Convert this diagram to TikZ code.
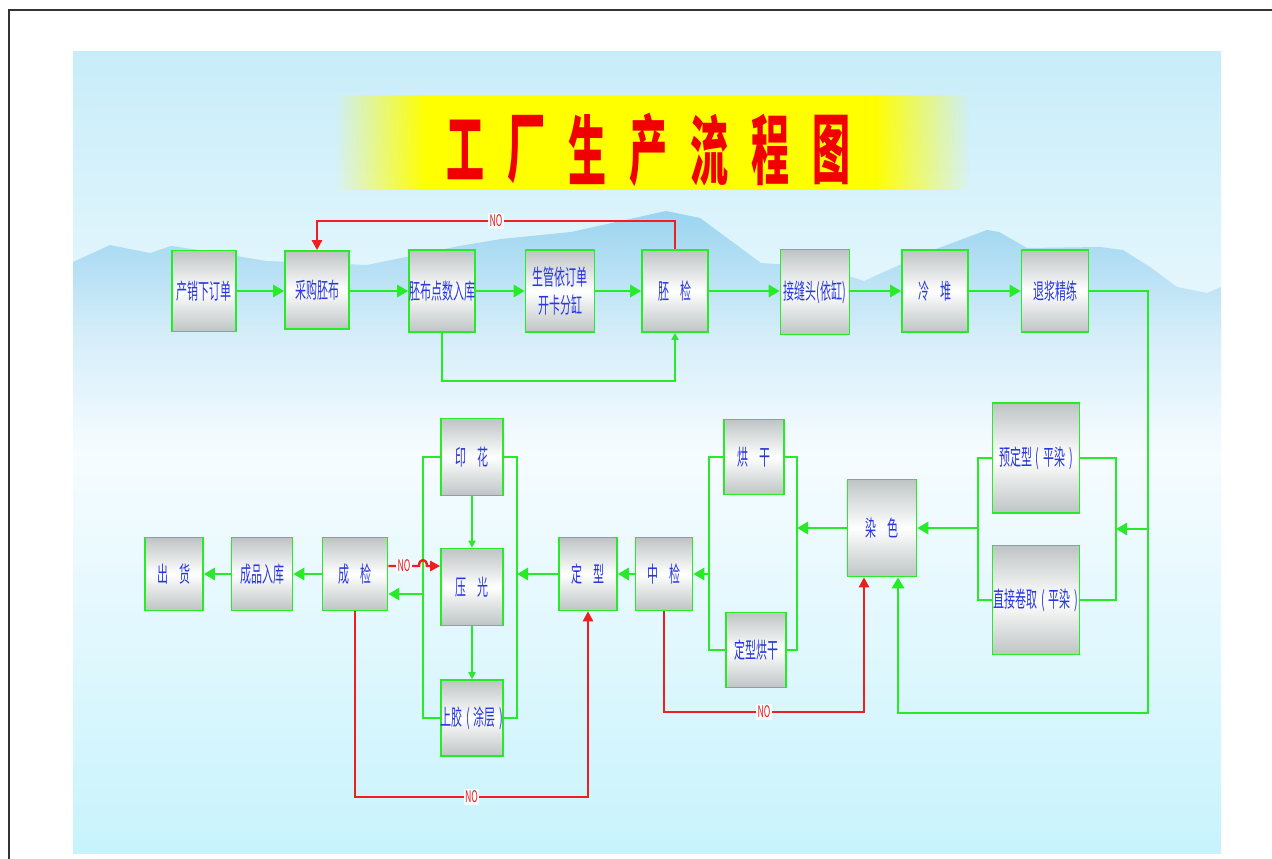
\documentclass[tikz,border=0pt]{standalone}
\usepackage{fontspec}
\newfontfamily\cjk[FakeStretch=0.5]{Noto Sans CJK SC}
\newfontfamily\cjkn[FakeStretch=0.55]{Noto Sans CJK SC}
\newfontfamily\cjkt[FakeStretch=0.5]{Noto Sans CJK SC}
\usetikzlibrary{arrows.meta,fadings}
\definecolor{lgreen}{RGB}{40,235,40}
\definecolor{lred}{RGB}{240,30,30}
\definecolor{txtblue}{RGB}{40,55,225}
\definecolor{boxgray}{RGB}{190,196,196}
\definecolor{labbg}{RGB}{242,251,254}
\definecolor{skytop}{RGB}{200,237,249}
\definecolor{skymid}{RGB}{246,252,255}
\definecolor{skybot}{RGB}{200,243,252}
\definecolor{mount}{RGB}{155,212,240}
\definecolor{mountmid}{RGB}{212,237,249}
\definecolor{titleyellow}{RGB}{255,255,0}
\definecolor{titlered}{RGB}{240,0,0}
\tikzfading[name=fadeleft, left color=transparent!100, right color=transparent!0]
\tikzfading[name=faderight, left color=transparent!0, right color=transparent!100]
\tikzset{
  box/.style={draw=lgreen, line width=1.6pt, top color=boxgray, bottom color=boxgray,
    middle color=white, text=txtblue, font=\cjk\fontsize{22}{28}\selectfont,
    align=center, inner sep=0pt},
  ga/.style={draw=lgreen, line width=2.8pt, -{Triangle[length=11pt,width=12pt]}},
  gl/.style={draw=lgreen, line width=2pt},
  gthin/.style={draw=lgreen, line width=1.6pt, -{Triangle[length=7pt,width=7pt]}},
  ra/.style={draw=lred, line width=2.4pt, -{Triangle[length=10pt,width=10pt]}},
  nolab/.style={text=lred, fill=labbg, inner sep=1.5pt, font=\cjkn\fontsize{16}{16}\selectfont},
  titlech/.style={text=titlered, font=\cjkt\bfseries\fontsize{76}{76}\selectfont, inner sep=0pt}
}
\begin{document}
\begin{tikzpicture}[x=1pt,y=-1pt]
\useasboundingbox (0,0) rectangle (1272,859);
\fill[white] (0,0) rectangle (1272,859);
% background
\shade[top color=skytop, bottom color=skybot, middle color=skymid] (73,52) rectangle (1221,853);
\shade[top color=mount, bottom color=skymid, middle color=mountmid]
  (73,262) -- (110,245) -- (150,253) -- (171,246) -- (220,253) -- (266,261) -- (367,265)
  -- (459,246) -- (501,239) -- (571,232) -- (666,211) -- (700,218) -- (761,263) -- (821,267)
  -- (864,281) -- (928,252) -- (987,230) -- (999,232) -- (1027,248) -- (1100,247) -- (1123,250)
  -- (1150,267) -- (1177,287) -- (1207,293) -- (1221,287) -- (1221,452) -- (73,452) -- cycle;
% outer frame
\draw[line width=1.5pt, black!80] (9,859) -- (9,10) -- (1272,10);
% title band
\fill[titleyellow] (425,95) rectangle (875,190);
\fill[titleyellow, path fading=fadeleft] (335,95) rectangle (425.5,190);
\fill[titleyellow, path fading=faderight] (874.5,95) rectangle (970,190);
\foreach \c [count=\i from 0] in {工,厂,生,产,流,程,图}
  \node[titlech] (t\i) at (465+61*\i,150) {\c};
% top row
\node[box, minimum width=64pt, minimum height=81pt] (n1) at (204,291) {产销下订单};
\node[box, minimum width=64pt, minimum height=78pt] (n2) at (317,290) {采购胚布};
\node[box, minimum width=66pt, minimum height=82pt] (n3) at (442,291) {胚布点数入库};
\node[box, minimum width=69pt, minimum height=82pt] (n4) at (560,291) {生管依订单\\开卡分缸};
\node[box, minimum width=66pt, minimum height=82pt] (n5) at (675,291) {胚　检};
\node[box, minimum width=69pt, minimum height=85pt] (n6) at (815,292) {接缝头(依缸)};
\node[box, minimum width=66pt, minimum height=82pt] (n7) at (935,291) {冷　堆};
\node[box, minimum width=67pt, minimum height=82pt] (n8) at (1055,291) {退浆精练};
% right part
\node[box, minimum width=87pt, minimum height=110pt] (n9) at (1036,458) {预定型\,(\,平染\,)};
\node[box, minimum width=87pt, minimum height=109pt] (n10) at (1036,600) {直接卷取\,(\,平染\,)};
\node[box, minimum width=69pt, minimum height=97pt] (n11) at (882,528) {染　色};
\node[box, minimum width=60pt, minimum height=75pt] (n12) at (754,457) {烘　干};
\node[box, minimum width=60pt, minimum height=75pt] (n13) at (756,650) {定型烘干};
\node[box, minimum width=57pt, minimum height=73pt] (n14) at (664,574) {中　检};
\node[box, minimum width=58pt, minimum height=73pt] (n15) at (588,574) {定　型};
\node[box, minimum width=62pt, minimum height=77pt] (n16) at (472,457) {印　花};
\node[box, minimum width=62pt, minimum height=77pt] (n17) at (472,587) {压　光};
\node[box, minimum width=62pt, minimum height=76pt] (n18) at (472,718) {上胶\,(\,涂层\,)};
\node[box, minimum width=65pt, minimum height=73pt] (n19) at (355,574) {成　检};
\node[box, minimum width=61pt, minimum height=73pt] (n20) at (262,574) {成品入库};
\node[box, minimum width=58pt, minimum height=73pt] (n21) at (174,574) {出　货};
% junction coordinates
\coordinate (jr) at (1148,529);
\coordinate (br) at (1116,529);
\coordinate (bl) at (978,528);
\coordinate (dr) at (797,528);
\coordinate (dl) at (709,574);
\coordinate (pr) at (517,574);
\coordinate (pl) at (423,594);
% top row connectors
\draw[ga] (n1) -- (n2.west |- n1);
\draw[ga] (n2.east |- n3) -- (n3);
\draw[ga] (n3) -- (n4);
\draw[ga] (n4) -- (n5);
\draw[ga] (n5) -- (n6.west |- n5);
\draw[ga] (n6.east |- n7) -- (n7);
\draw[ga] (n7) -- (n8);
\draw[ra] (n5.north) -- (n5.north |- 0,221) -| node[pos=0.25, nolab] {NO} (n2.north);
\draw[gthin] (n3.south) -- (n3.south |- 0,381) -| (n5.south);
% right loop
\draw[ga] (n8.east) -| (1148,713) -| ([xshift=16pt]n11.south);
\draw[ga] (jr) -- (br);
\draw[gl] (n9.east) -| (n10.east -| br) -- (n10.east);
\draw[gl] (n9.west) -| (n10.west -| bl) -- (n10.west);
\draw[ga] (bl) -- (n11.east);
\draw[ga] (n11.west) -- (dr);
\draw[gl] (n12.east) -| (n13.east -| dr) -- (n13.east);
\draw[gl] (n12.west) -| (n13.west -| dl) -- (n13.west);
\draw[ga] (dl) -- (n14.east);
\draw[ga] (n14) -- (n15);
\draw[ra] (n14.south) -- (n14.south |- 0,712) -| node[pos=0.25, nolab] {NO} ([xshift=-18pt]n11.south);
% finishing
\draw[ga] (n15.west) -- (pr);
\draw[gl] (n16.east) -| (n18.east -| pr) -- (n18.east);
\draw[gl] (n16.west) -| (n18.west -| pl) -- (n18.west);
\draw[gthin] (n16) -- (n17);
\draw[gthin] (n17) -- (n18);
\draw[ga] (pl) -- (n19.east |- pl);
\draw[ra] (n19.east |- 0,566) -- (419,566) .. controls (419,558) and (427,558) .. (427,566) -- (n17.west |- 0,566);
\node[nolab] (no4) at (404,566) {NO};
\draw[ga] (n19) -- (n20);
\draw[ga] (n20) -- (n21);
\draw[ra] (n19.south) -- (n19.south |- 0,797) -| node[pos=0.25, nolab] {NO} (n15.south);
\end{tikzpicture}
\end{document}
